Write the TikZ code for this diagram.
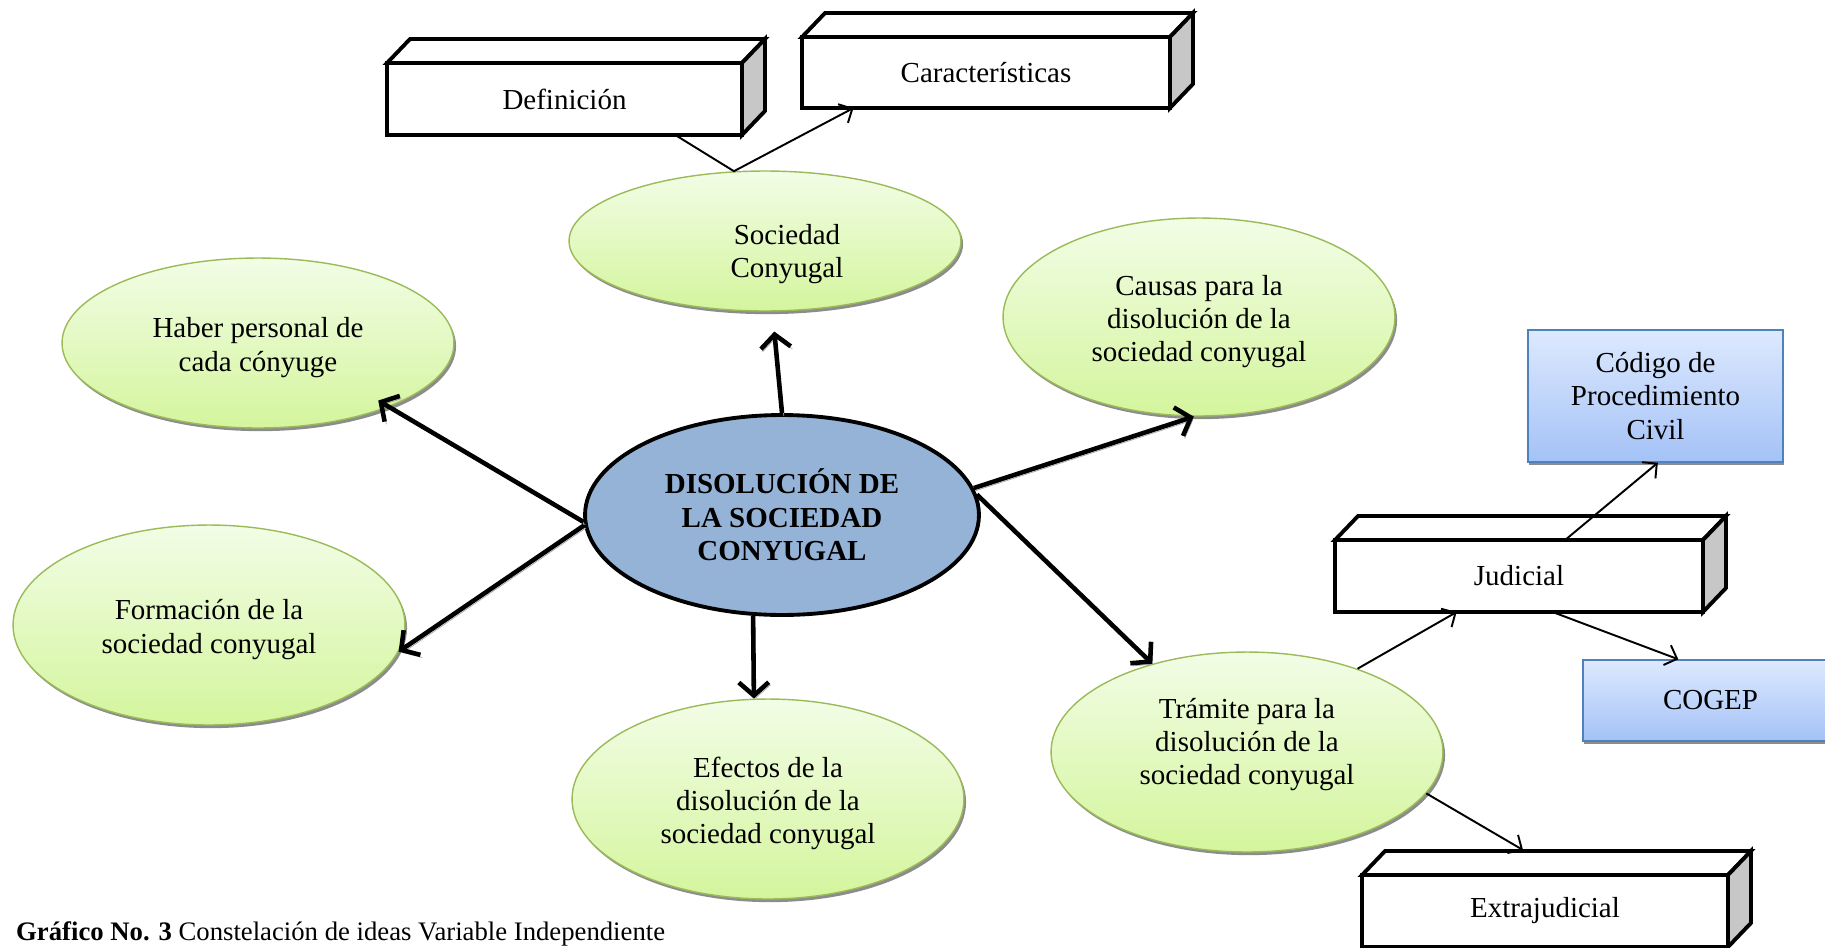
\documentclass[tikz,border=0pt]{standalone}
\usepackage{fontspec}
\setmainfont{Liberation Serif}
\usetikzlibrary{calc,shadows,arrows.meta,shapes.geometric}

\definecolor{verdeborde}{HTML}{9BBB59}
\definecolor{verdearriba}{HTML}{F2FDE6}
\definecolor{verdeabajo}{HTML}{D4F59D}
\definecolor{azulcentro}{HTML}{95B3D7}
\definecolor{azulborde}{HTML}{4F81BD}
\definecolor{azularriba}{HTML}{DDE9FE}
\definecolor{azulabajo}{HTML}{A4C2F7}

\tikzset{
  idea/.style={ellipse, draw=verdeborde, line width=0.8pt, top color=verdearriba,
    bottom color=verdeabajo, minimum width=7.84cm, minimum height=4cm, inner sep=0pt,
    align=center, drop shadow={shadow xshift=1.2pt, shadow yshift=-1.8pt, fill=black!45, opacity=1}},
  bajar/.style={text height=#1},
  caja/.style={rectangle, draw, line width=2.2pt, fill=white, outer sep=0pt,
    minimum height=1.44cm, inner sep=0pt, align=center},
  ley/.style={rectangle, draw=azulborde, line width=0.8pt, top color=azularriba,
    bottom color=azulabajo, minimum width=5.1cm, inner sep=0pt, align=center,
    drop shadow={shadow xshift=0.6pt, shadow yshift=-1.8pt, fill=black!45, opacity=1}},
  flecha/.style={line width=2.6pt, -{Straight Barb[length=7.5pt,width=17pt]},
    preaction={draw=black!35, transform canvas={shift={(1pt,-1.5pt)}}}},
  enlace/.style={line width=1.1pt, -{Straight Barb[length=6pt,width=12pt]}},
}

\begin{document}
\begin{tikzpicture}[x=0.02cm, y=-0.02cm, font=\fontsize{16.5}{19}\selectfont]
        \useasboundingbox (0,0) rectangle (1825,947);

        % centro y ramas
        \node[ellipse, draw, line width=2.2pt, fill=azulcentro, minimum width=7.88cm,
          minimum height=4cm, align=center, font=\fontsize{16.5}{19}\selectfont\bfseries]
          (cen) at (782,515) {DISOLUCIÓN DE\\LA SOCIEDAD\\CONYUGAL};
        \node[idea, minimum height=2.8cm, label={[align=center, xshift=0.44cm, yshift=-0.26cm]center:Sociedad\\Conyugal}]
          (soc) at (765,241) {};
        \node[idea, bajar=35.6pt, minimum height=3.4cm] (hab) at (258,343) {Haber personal de\\cada cónyuge};
        \node[idea, bajar=54.6pt, minimum height=3.96cm] (cau) at (1199,317) {Causas para la\\disolución de la\\sociedad conyugal};
        \node[idea, bajar=35.6pt] (form) at (209,625) {Formación de la\\sociedad conyugal};
        \node[idea, bajar=54.6pt] (efe) at (768,799) {Efectos de la\\disolución de la\\sociedad conyugal};
        \node[idea, label={[align=center, yshift=0.15cm]center:Trámite para la\\disolución de la\\sociedad conyugal}]
          (tra) at (1247,752) {};

        % cajas
        \node[caja, minimum width=7.1cm] (def) at (564.5,99) {Definición};
        \node[caja, minimum width=7.36cm, minimum height=1.42cm] (car) at (986,72.5) {Características};
        \node[caja, minimum width=7.36cm] (jud) at (1519,576) {Judicial};
        \node[caja, minimum width=7.32cm] (ext) at (1545,911) {Extrajudicial};
        \node[ley, minimum height=2.64cm] (cod) at (1655.5,396) {Código de\\Procedimiento\\Civil};
        \node[ley, minimum height=1.62cm] (cog) at (1710.5,700.5) {COGEP};

        \foreach \n in {def,car,jud,ext} {
          \draw[line width=2.2pt, fill=white] (\n.north west) -- ++(23,-24)
            -- ($(\n.north east)+(23,-24)$) -- (\n.north east) -- cycle;
          \draw[line width=2.2pt, fill=black!22] (\n.north east) -- ++(23,-24)
            -- ($(\n.south east)+(23,-24)$) -- (\n.south east) -- cycle;
        }

        \draw[flecha, shorten >=0.4cm] (cen.north) -- (soc.-84);
        \draw[flecha] (cen.8) -- (cau.-93);
        \draw[flecha] (cen.6) -- (tra.137);
        \draw[flecha] (cen.-106) -- (efe.98);
        \draw[flecha] (cen.183) -- (form.-8);
        \draw[flecha, shorten >=-0.25cm] (cen.182) -- (hab.-26);

        \draw[enlace] (def.-18.5) -- (soc.114) -- (car.195);
        \draw[enlace] (tra.37) -- (jud.210);
        \draw[enlace] (jud.38) -- (cod.-88);
        \draw[enlace] (jud.-47) -- (cog.128);
        \draw[enlace] (tra.-13) -- ([xshift=-0.44cm, yshift=0.5cm]ext.north);

        \node[anchor=base west, font=\fontsize{15.2}{18}\selectfont] (cap) at (10,940)
          {\textbf{Gráfico No. 3} Constelación de ideas Variable Independiente};
\end{tikzpicture}
\end{document}
